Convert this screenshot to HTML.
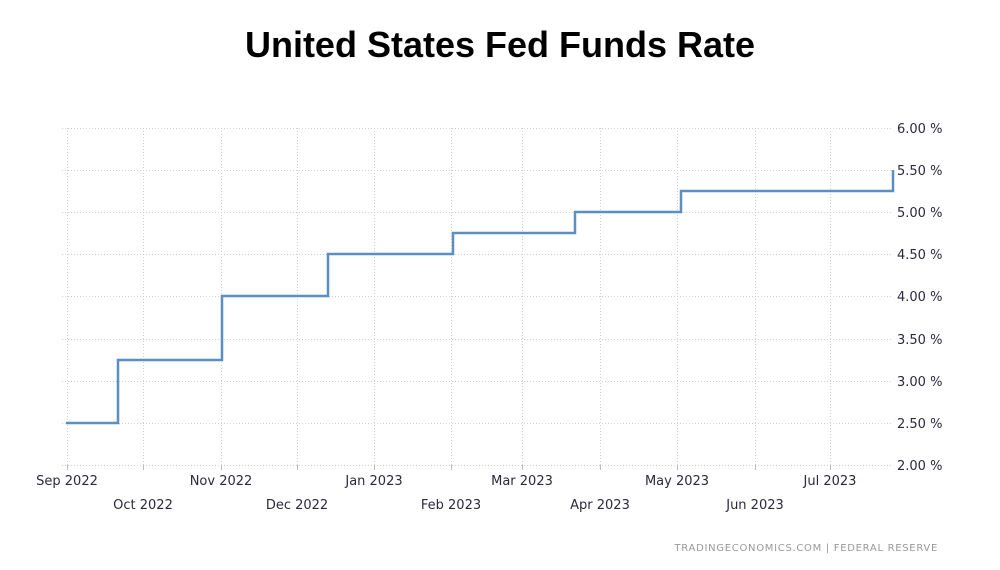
<!DOCTYPE html>
<html><head><meta charset="utf-8"><style>
body{margin:0;background:#fff;width:1000px;height:570px;overflow:hidden}
h1{position:absolute;top:24px;left:0;width:1000px;margin:0;text-align:center;font:bold 36px "Liberation Sans",sans-serif;color:#000}
svg{position:absolute;left:0;top:0}
text{font-family:"DejaVu Sans","Liberation Sans",sans-serif;font-size:13px;fill:#2a2a3a}
</style></head><body>
<h1>United States Fed Funds Rate</h1>
<svg width="1000" height="570">
<g stroke="#d0d0d0" stroke-width="1" stroke-dasharray="1,2">
<line x1="62" x2="893" y1="128.5" y2="128.5"/>
<line x1="62" x2="893" y1="170.5" y2="170.5"/>
<line x1="62" x2="893" y1="212.5" y2="212.5"/>
<line x1="62" x2="893" y1="254.5" y2="254.5"/>
<line x1="62" x2="893" y1="296.5" y2="296.5"/>
<line x1="62" x2="893" y1="339.5" y2="339.5"/>
<line x1="62" x2="893" y1="381.5" y2="381.5"/>
<line x1="62" x2="893" y1="423.5" y2="423.5"/>
<line x1="62" x2="893" y1="465.5" y2="465.5"/>
<line x1="67.5" x2="67.5" y1="128" y2="465"/>
<line x1="143.5" x2="143.5" y1="128" y2="465"/>
<line x1="221.5" x2="221.5" y1="128" y2="465"/>
<line x1="297.5" x2="297.5" y1="128" y2="465"/>
<line x1="374.5" x2="374.5" y1="128" y2="465"/>
<line x1="451.5" x2="451.5" y1="128" y2="465"/>
<line x1="522.5" x2="522.5" y1="128" y2="465"/>
<line x1="600.5" x2="600.5" y1="128" y2="465"/>
<line x1="677.5" x2="677.5" y1="128" y2="465"/>
<line x1="755.5" x2="755.5" y1="128" y2="465"/>
<line x1="830.5" x2="830.5" y1="128" y2="465"/>
</g>
<g stroke="#bbb" stroke-width="1">
<line x1="67.5" x2="67.5" y1="465" y2="470"/><line x1="143.5" x2="143.5" y1="465" y2="470"/><line x1="221.5" x2="221.5" y1="465" y2="470"/><line x1="297.5" x2="297.5" y1="465" y2="470"/><line x1="374.5" x2="374.5" y1="465" y2="470"/><line x1="451.5" x2="451.5" y1="465" y2="470"/><line x1="522.5" x2="522.5" y1="465" y2="470"/><line x1="600.5" x2="600.5" y1="465" y2="470"/><line x1="677.5" x2="677.5" y1="465" y2="470"/><line x1="755.5" x2="755.5" y1="465" y2="470"/><line x1="830.5" x2="830.5" y1="465" y2="470"/>
</g>
<polyline fill="none" stroke="#5b8ec2" stroke-width="2.5" points="66,423 118,423 118,360 222,360 222,296 328,296 328,254 453,254 453,233 575,233 575,212 681,212 681,191 893,191 893,170"/>
<g text-anchor="start">
<text x="897" y="133">6.00 %</text><text x="897" y="175">5.50 %</text><text x="897" y="217">5.00 %</text><text x="897" y="259">4.50 %</text><text x="897" y="301">4.00 %</text><text x="897" y="344">3.50 %</text><text x="897" y="386">3.00 %</text><text x="897" y="428">2.50 %</text><text x="897" y="470">2.00 %</text>
</g>
<g text-anchor="middle">
<text x="67" y="485">Sep 2022</text><text x="221" y="485">Nov 2022</text><text x="374" y="485">Jan 2023</text><text x="522" y="485">Mar 2023</text><text x="677" y="485">May 2023</text><text x="830" y="485">Jul 2023</text>
<text x="143" y="509">Oct 2022</text><text x="297" y="509">Dec 2022</text><text x="451" y="509">Feb 2023</text><text x="600" y="509">Apr 2023</text><text x="755" y="509">Jun 2023</text>
</g>
<text x="938" y="551" text-anchor="end" style="font-size:10px;fill:#999;letter-spacing:0.7px">TRADINGECONOMICS.COM  |  FEDERAL RESERVE</text>
</svg>
</body></html>
